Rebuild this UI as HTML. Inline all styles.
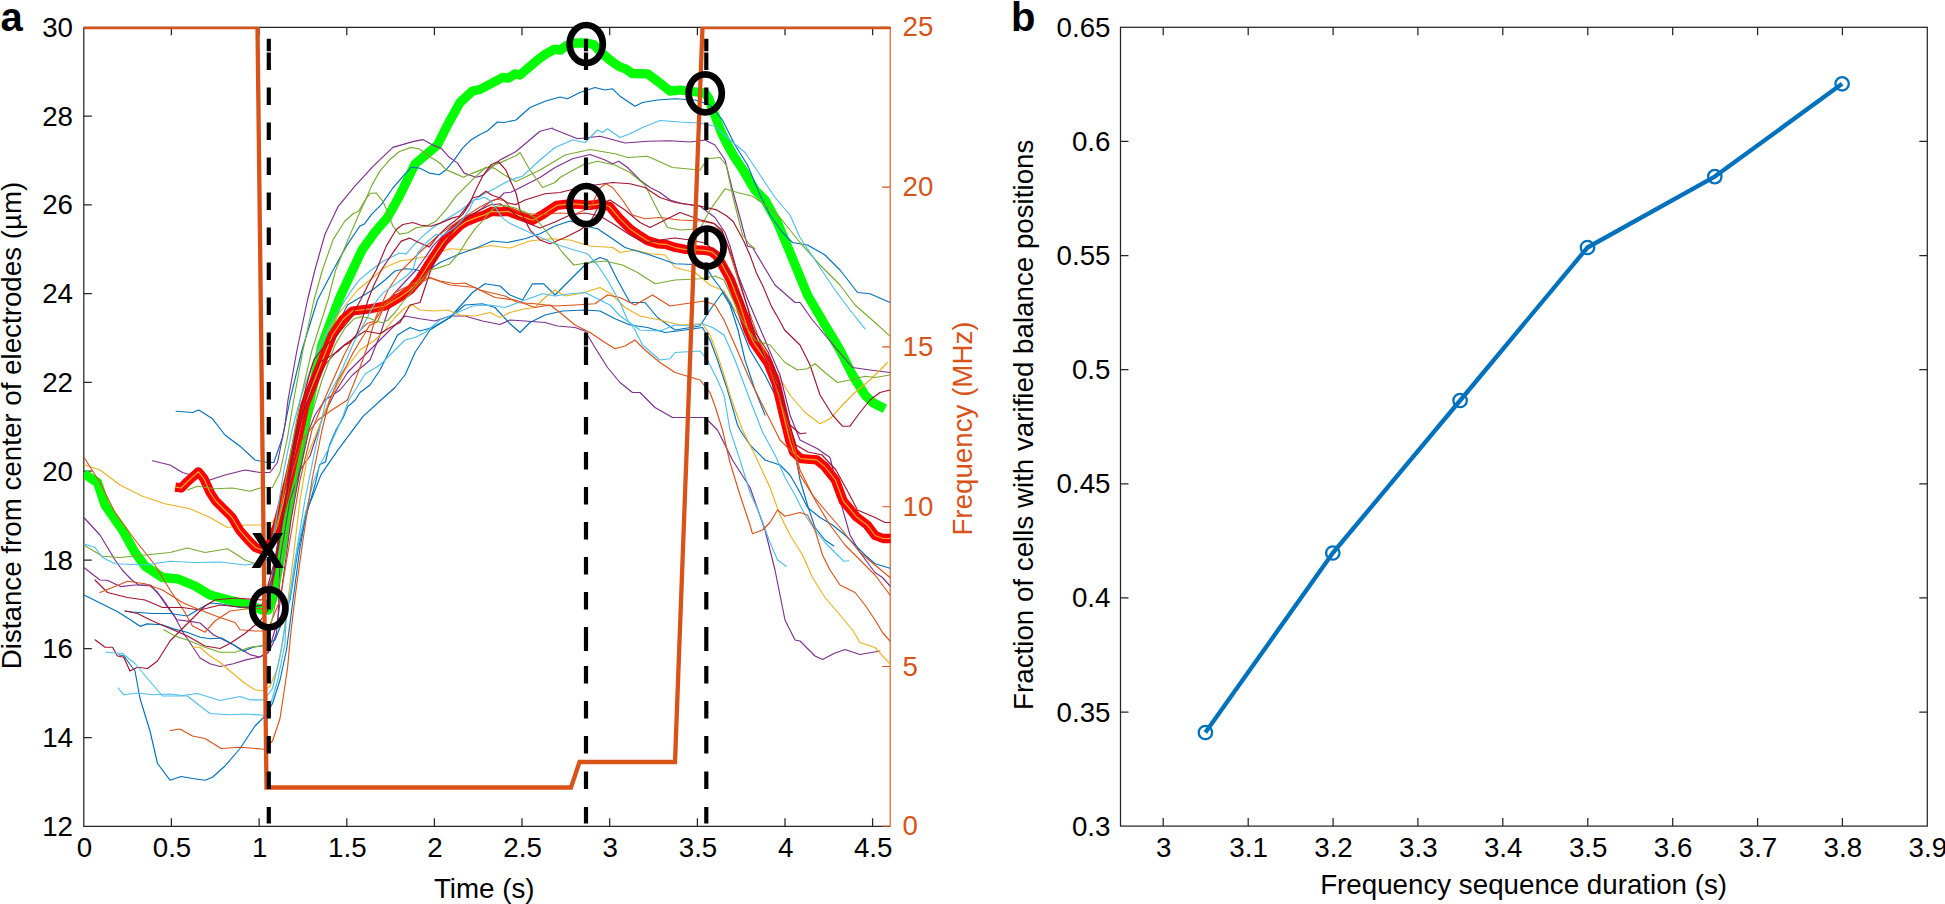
<!DOCTYPE html>
<html lang="en"><head><meta charset="utf-8"><title>Figure</title>
<style>html,body{margin:0;padding:0;background:#fff;}body{width:1945px;height:904px;overflow:hidden;}svg{display:block;}text{font-family:"Liberation Sans", Arial, Helvetica, sans-serif;}</style></head><body>
<svg width="1945" height="904" viewBox="0 0 1945 904">
<rect width="1945" height="904" fill="#fff"/>
<defs><clipPath id="ca"><rect x="83.8" y="26.7" width="806.9" height="799.6"/></clipPath></defs>
<g fill="none" stroke="#262626" stroke-width="1.25">
<path d="M83.8 27.3V826.3H890.2"/>
<path d="M83.8 27.3H890.2"/>
<path d="M171.4 826.3v-8M171.4 27.3v8M259.1 826.3v-8M259.1 27.3v8M346.8 826.3v-8M346.8 27.3v8M434.4 826.3v-8M434.4 27.3v8M522.0 826.3v-8M522.0 27.3v8M609.7 826.3v-8M609.7 27.3v8M697.4 826.3v-8M697.4 27.3v8M785.0 826.3v-8M785.0 27.3v8M872.6 826.3v-8M872.6 27.3v8M83.8 737.5h8M83.8 648.7h8M83.8 560.0h8M83.8 471.2h8M83.8 382.4h8M83.8 293.6h8M83.8 204.9h8M83.8 116.1h8"/>
</g>
<g fill="none" stroke="#D95319" stroke-width="1.1">
<path d="M890.2 27.3V826.3M890.2 826.3h-8M890.2 666.5h-8M890.2 506.7h-8M890.2 346.9h-8M890.2 187.1h-8M890.2 27.3h-8"/>
</g>
<g clip-path="url(#ca)" fill="none" stroke-linejoin="round" stroke-linecap="round">
<polyline stroke="#00FF00" stroke-width="9.3" stroke-linecap="butt" points="83.8,473.8 97.5,482.5 105.0,505.0 122.5,530.0 135.0,552.5 145.0,566.0 162.5,577.5 177.5,578.8 195.0,586.0 210.0,595.0 232.5,601.0 250.0,605.0 262.0,610.0 268.0,610.0 273.0,598.0 280.0,560.0 290.0,500.0 300.0,452.0 310.0,400.0 322.0,345.0 340.0,297.0 362.0,250.0 375.0,232.0 387.5,217.5 400.0,195.0 415.0,164.0 437.5,145.0 447.5,125.0 460.0,102.5 472.5,91.0 480.0,89.5 502.5,77.5 508.8,78.0 515.0,73.8 520.0,75.0 537.5,60.0 546.0,53.8 554.6,49.2 560.6,50.2 565.9,45.9 573.9,43.2 581.0,42.8 588.5,43.5 593.8,44.5 598.5,49.9 605.8,56.5 612.4,61.8 619.0,66.5 626.0,69.1 632.0,73.5 647.5,73.8 657.5,81.2 670.0,91.2 680.0,90.0 705.0,93.0 708.5,98.0 711.6,106.3 716.5,119.5 721.5,132.8 728.2,146.1 734.8,157.7 743.1,170.0 755.0,190.0 765.0,200.0 777.5,222.5 790.0,252.5 807.5,295.0 825.0,325.0 840.0,350.0 852.5,375.0 865.0,395.0 872.5,402.5 885.0,408.8"/>
<g stroke-width="1.15">
<polyline stroke="#0072BD" points="176.2,411.2 192.5,412.5 198.8,410.0 212.5,418.8 225.0,435.0 240.0,446.2 255.0,460.0 267.5,462.5 273.8,462.5 282.5,437.5 290.0,400.0 302.0,350.0 317.5,300.0 333.2,270.0 346.4,246.1 359.7,226.2 364.7,223.7 371.3,214.6 381.3,204.6 392.9,188.0 402.9,176.4 411.1,167.3 419.4,168.1 429.4,173.1 439.3,174.7 446.0,169.8 454.3,159.8 462.6,148.2 470.9,139.9 479.2,134.9 487.5,130.8 497.4,122.0 504.0,122.5 516.0,120.0 530.0,107.5 545.0,101.2 560.0,97.0 567.5,98.8 580.0,92.5 595.0,87.5 605.0,90.0 612.5,88.8 620.0,96.2 635.0,106.2 642.5,102.5 657.5,100.0 675.0,98.8 695.0,100.0 710.0,105.0 722.5,120.0 735.0,145.0 747.5,165.0 760.0,195.0 770.0,215.0 782.5,232.5 792.5,242.5 807.5,245.0 825.0,255.0 840.0,270.0 857.5,292.5 870.0,293.8 890.0,302.5"/>
<polyline stroke="#7E2F8E" points="152.5,460.8 170.0,465.0 182.5,472.5 200.0,477.5 210.0,480.0 225.0,475.0 245.0,470.0 260.0,472.5 270.0,472.5 277.5,462.5 285.0,425.0 288.0,400.0 297.0,350.0 307.5,300.0 314.9,270.0 324.9,234.5 338.2,206.3 354.7,186.4 373.0,166.4 392.9,147.4 412.8,141.6 422.8,139.6 432.7,144.9 441.0,148.2 449.3,157.3 457.6,163.1 464.2,173.1 475.8,177.2 482.5,175.6 490.8,168.1 499.1,160.6 516.0,151.5 540.0,131.2 552.5,128.0 552.5,128.8 565.0,133.8 577.5,138.8 600.0,136.2 625.0,143.0 647.5,141.2 670.0,140.8 690.0,142.0 705.0,140.0 715.0,145.0 725.0,160.0 732.5,190.0 740.0,217.5 747.5,246.0 752.5,247.5 775.0,285.0 795.0,302.5 800.0,302.5 812.5,320.0 837.5,350.0 852.5,367.5 870.0,370.0 890.0,372.5"/>
<polyline stroke="#EDB120" points="83.8,464.5 100.0,470.0 120.0,485.0 142.5,496.2 165.0,503.8 190.0,508.8 210.0,517.5 227.5,527.5 245.0,525.0 262.5,525.0 272.5,522.5 280.0,507.5 287.5,475.0 297.5,425.0 302.5,400.0 312.0,365.0 325.0,335.0 340.0,312.0 357.5,290.0 370.0,280.0 385.0,267.5 400.0,261.0 415.0,258.8 432.5,255.0 450.0,248.8 470.0,250.0 490.0,245.5 510.0,248.0 530.0,241.0 550.0,238.8 570.0,240.0 590.0,246.0 612.5,247.5 620.0,252.5 635.0,250.0 650.0,253.8 665.0,255.0 675.0,267.5 695.0,272.5 710.0,285.0 724.0,291.0 735.0,310.0 750.0,330.0 765.0,350.0 775.0,370.0 790.0,395.0 805.0,412.5 820.0,423.8 830.0,418.8 842.5,405.0 855.0,392.5 870.0,380.0 887.5,362.5"/>
<polyline stroke="#7E2F8E" points="83.8,517.5 100.0,535.0 115.0,560.0 122.2,570.0 131.8,580.0 138.7,585.0 150.4,586.0 157.0,591.6 167.0,606.5 177.0,619.8 190.2,621.4 200.0,623.0 213.4,634.7 233.3,644.7 250.0,654.6 259.8,657.0 268.0,652.0 272.0,640.0 277.5,621.0 283.0,580.0 291.0,520.0 300.0,470.0 309.0,430.0 315.0,415.0 325.0,400.0 340.0,390.0 352.5,375.0 370.0,360.0 380.0,335.0 387.5,312.5 395.0,292.5 416.1,270.0 426.1,256.0 432.7,246.1 439.3,239.4 449.3,229.5 455.9,222.9 465.9,216.2 475.8,212.9 482.5,207.9 490.8,201.3 499.1,198.0 504.0,193.0 510.7,192.2 516.0,189.7 540.0,177.5 555.0,167.5 572.5,158.8 590.0,154.5 605.0,160.0 612.5,163.8 618.8,161.2 627.5,167.5 640.0,180.0 650.0,187.5 660.0,192.5 670.0,200.0 682.5,203.8 700.0,206.2 715.0,217.5 725.0,232.5 730.0,246.0 738.0,275.0 750.0,305.0 765.0,340.0 780.0,375.0 790.0,415.0 800.0,440.0 817.5,448.8 830.0,457.5 832.5,467.5 840.0,500.0 850.0,535.0 860.0,552.5 875.0,572.5 882.5,577.5 890.0,586.0"/>
<polyline stroke="#7E2F8E" points="83.8,567.5 100.0,580.0 107.2,580.3 120.5,586.6 135.0,585.0 150.4,585.0 162.0,598.2 173.6,614.8 183.5,633.0 190.2,643.0 200.1,658.0 210.0,663.7 220.0,666.5 233.3,663.7 246.6,659.6 259.8,657.0 268.1,653.0 273.1,643.0 276.4,633.0 278.0,621.0 280.0,560.0 290.0,500.0 300.0,470.0 310.0,456.0 322.5,417.5 335.0,392.5 347.5,372.5 365.0,355.0 380.0,340.0 395.0,325.0 405.0,316.0 420.0,318.8 435.0,321.0 450.0,316.0 465.0,316.0 482.5,321.0 500.0,324.5 510.0,320.0 525.0,321.0 545.0,322.5 557.5,326.0 575.0,327.5 585.0,331.0 595.0,347.5 607.5,367.5 620.0,382.5 632.5,392.5 640.0,392.5 655.0,407.5 672.5,417.5 705.0,417.5 715.0,427.5 717.5,430.0 732.5,460.0 750.0,487.5 765.0,530.0 775.0,570.0 785.0,620.0 795.0,640.0 800.0,641.0 815.0,656.0 822.5,659.5 835.0,653.0 845.0,649.5 860.0,654.5 880.0,651.0"/>
<polyline stroke="#0072BD" points="84.0,594.9 100.6,603.2 117.2,611.5 130.4,619.8 140.4,626.4 147.0,623.9 162.0,624.7 173.6,628.9 186.9,632.2 200.1,637.2 210.1,638.8 221.7,638.0 233.3,644.7 243.3,651.3 253.2,647.1 263.2,645.5 275.0,640.0 283.0,620.0 290.0,600.0 298.0,550.0 305.0,520.0 315.5,483.0 319.6,464.7 325.4,462.0 329.6,444.8 336.0,430.0 343.7,416.6 347.8,406.6 355.3,400.0 360.0,392.5 370.0,385.0 380.0,370.0 390.0,350.0 397.5,335.0 410.0,327.5 420.0,331.0 432.5,327.5 450.0,317.5 465.0,305.0 482.5,303.8 495.0,307.5 510.0,323.8 520.0,332.5 530.0,322.5 545.0,315.0 562.5,311.0 585.0,310.0 600.0,311.0 615.0,318.8 630.0,325.0 647.5,327.5 665.0,332.5 685.0,330.0 702.5,327.5 710.0,340.0 717.5,360.0 727.5,390.0 737.5,425.0 740.0,430.0 750.0,445.0 765.0,460.0 780.0,465.0 790.0,475.0 800.0,492.5 807.5,507.5 820.0,517.5 832.5,525.0 845.0,535.0 855.0,545.0 865.0,555.0 875.0,563.8 890.0,568.2"/>
<polyline stroke="#0072BD" points="125.0,611.0 132.5,612.0 152.5,613.5 170.0,613.5 187.5,616.0 200.0,608.5 210.0,603.0 220.0,603.8 240.0,607.5 260.0,606.0 268.0,600.0 275.0,560.0 285.0,500.0 295.0,450.0 308.0,400.0 325.0,350.0 347.5,305.0 360.0,297.5 372.5,290.0 385.0,280.0 395.0,271.0 405.0,268.8 415.0,269.5 425.0,272.5 440.0,262.5 460.0,253.8 477.5,247.5 492.5,241.0 507.5,242.5 525.0,238.8 540.0,233.8 555.0,226.0 570.0,221.0 585.0,226.0 597.5,228.8 612.5,238.8 625.0,247.5 650.0,255.0 675.0,263.8 705.0,265.0 712.5,277.5 720.0,287.5 730.0,302.5 740.0,325.0 750.0,350.0 765.0,375.0 775.0,395.0 790.0,427.5 800.0,480.0 807.5,505.0 815.0,527.5 825.0,540.0 833.8,546.0"/>
<polyline stroke="#0072BD" points="118.8,654.8 123.8,656.0 135.0,671.0 140.0,698.5 150.0,731.0 157.5,763.5 170.0,780.2 181.2,776.5 192.5,778.5 205.0,780.2 212.5,777.2 225.0,766.0 240.0,748.5 255.0,726.0 265.0,716.0 272.5,703.5 280.0,680.0 286.5,650.0 293.0,600.0 299.7,550.0 306.7,510.0 312.0,498.0 321.0,474.6 338.0,449.8 362.8,416.6 381.0,400.0 395.0,387.5 405.0,375.0 415.0,352.5 430.0,330.0 450.0,317.5 472.5,292.5 485.0,283.8 500.0,286.0 510.0,295.0 522.5,300.0 532.5,283.8 543.8,283.8 555.0,295.0 570.0,280.0 585.0,265.0 600.0,257.5 607.5,260.0 617.5,280.0 630.0,302.5 645.0,302.5 657.5,317.5 675.0,330.0 700.0,326.0 710.0,310.0 722.5,292.5 730.0,305.0 738.0,330.0 745.0,360.0 755.0,390.0 765.0,415.0"/>
<polyline stroke="#EDB120" points="192.5,647.2 200.0,647.2 210.0,656.0 220.0,662.2 230.0,671.0 245.0,683.5 255.0,689.8 263.8,691.0 270.0,686.0 277.5,668.5 282.5,643.5 293.0,560.0 300.0,500.0 307.5,456.0 327.5,405.0 345.0,370.0 360.0,350.0 375.0,340.0 385.0,330.0 395.0,317.5 405.0,307.5 412.5,305.0 420.0,310.0 435.0,311.0 447.5,310.0 460.0,315.0 475.0,316.0 490.0,312.5 500.0,317.5 510.0,312.5 525.0,308.8 535.0,307.5 545.0,297.5 555.0,290.0 565.0,296.0 580.0,293.8 600.0,287.5 612.5,295.0 625.0,307.5 640.0,316.0 660.0,320.0 680.0,325.0 702.5,323.8 710.0,335.0 717.5,355.0 724.0,375.0 730.0,395.0 737.0,415.0 742.5,430.0 755.0,455.0 770.0,487.5 780.0,515.0 790.0,535.0 802.5,555.0 812.5,577.5 825.0,597.5 840.0,615.0 852.5,630.0 860.0,642.5 875.0,647.5 890.0,663.8"/>
</g>
<polyline stroke="#FF0000" stroke-width="9.3" stroke-linecap="butt" points="175.3,487.1 181.2,488.0 186.5,482.5 198.5,471.8 203.8,478.5 210.4,493.0 215.7,501.0 223.7,509.0 231.7,517.0 239.6,530.2 247.6,539.5 255.5,547.5 262.2,550.0 269.0,546.0 277.5,525.0 290.0,475.0 305.0,405.0 317.5,372.5 332.5,335.0 342.5,320.0 352.5,311.0 370.0,308.8 385.0,306.0 400.0,297.0 410.0,290.0 418.8,280.0 427.8,265.7 435.8,253.7 443.7,241.8 451.7,233.8 459.7,225.9 465.7,221.9 475.6,217.9 484.6,214.9 491.6,211.4 499.5,211.9 508.5,211.4 514.5,213.9 519.8,215.9 532.8,220.3 543.7,213.9 556.7,205.4 569.6,203.9 579.6,204.4 589.6,205.4 599.5,203.9 609.5,206.5 620.0,218.9 629.9,228.8 639.9,235.8 647.8,240.8 657.8,243.8 665.8,244.3 674.7,247.3 684.7,249.3 694.7,249.8 704.6,250.3 711.6,251.8 716.6,255.7 721.6,263.7 726.5,272.7 730.5,280.0 740.0,305.0 748.0,330.0 753.0,341.6 768.0,363.0 776.0,383.0 783.0,413.0 789.5,439.5 793.5,452.0 800.8,458.6 816.7,459.9 824.7,466.5 835.3,479.8 843.2,501.0 856.5,516.9 867.1,524.9 875.1,535.5 883.0,538.5 891.0,538.5"/>
<polyline stroke="#F0A818" stroke-width="1.2" points="175.3,487.1 181.2,488.0 186.5,482.5 198.5,471.8 203.8,478.5 210.4,493.0 215.7,501.0 223.7,509.0 231.7,517.0 239.6,530.2 247.6,539.5 255.5,547.5 262.2,550.0 269.0,546.0 277.5,525.0 290.0,475.0 305.0,405.0 317.5,372.5 332.5,335.0 342.5,320.0 352.5,311.0 370.0,308.8 385.0,306.0 400.0,297.0 410.0,290.0 418.8,280.0 427.8,265.7 435.8,253.7 443.7,241.8 451.7,233.8 459.7,225.9 465.7,221.9 475.6,217.9 484.6,214.9 491.6,211.4 499.5,211.9 508.5,211.4 514.5,213.9 519.8,215.9 532.8,220.3 543.7,213.9 556.7,205.4 569.6,203.9 579.6,204.4 589.6,205.4 599.5,203.9 609.5,206.5 620.0,218.9 629.9,228.8 639.9,235.8 647.8,240.8 657.8,243.8 665.8,244.3 674.7,247.3 684.7,249.3 694.7,249.8 704.6,250.3 711.6,251.8 716.6,255.7 721.6,263.7 726.5,272.7 730.5,280.0 740.0,305.0 748.0,330.0 753.0,341.6 768.0,363.0 776.0,383.0 783.0,413.0 789.5,439.5 793.5,452.0 800.8,458.6 816.7,459.9 824.7,466.5 835.3,479.8 843.2,501.0 856.5,516.9 867.1,524.9 875.1,535.5 883.0,538.5 891.0,538.5"/>
<g stroke-width="1.15">
<polyline stroke="#77AC30" points="187.5,490.0 197.5,486.2 215.0,488.8 232.5,488.0 250.0,491.2 260.0,488.0 272.5,487.5 280.0,472.5 287.5,437.5 293.7,400.0 303.0,350.0 314.0,300.0 322.4,270.0 333.2,239.4 344.8,221.2 353.1,213.7 358.9,210.9 366.4,198.0 371.3,186.4 379.6,171.4 389.6,159.8 399.5,151.5 411.1,147.4 419.4,149.0 429.4,156.5 436.0,160.6 441.0,164.0 446.0,169.8 455.9,173.9 463.4,177.2 472.5,173.1 485.8,168.1 499.1,163.1 516.0,155.7 520.0,152.5 530.0,170.0 542.5,187.5 555.0,182.5 560.0,177.5 582.5,165.0 597.5,161.2 615.0,165.0 630.0,172.5 645.0,185.0 657.5,210.0 667.5,227.5 680.0,230.0 700.0,228.8 710.0,210.0 725.0,188.8 737.5,192.5 752.5,196.2 765.0,205.0 780.0,217.5 790.0,230.0 800.0,242.5 820.0,265.0 840.0,285.0 855.0,305.0 875.0,322.5 890.0,336.2"/>
<polyline stroke="#D95319" points="83.8,457.0 100.0,482.5 115.0,512.5 135.0,540.0 155.0,565.0 170.0,590.0 185.0,612.5 192.5,626.0 197.5,628.5 205.0,632.2 215.0,621.0 230.0,611.0 250.0,608.5 265.0,608.5 272.0,590.0 280.0,540.0 290.0,480.0 302.0,440.0 318.0,420.0 332.0,410.0 347.3,400.0 356.2,377.4 362.8,359.7 367.3,346.5 371.7,331.0 376.1,316.6 381.6,304.4 388.0,290.0 400.0,272.0 420.0,252.0 440.0,234.0 460.0,220.0 480.0,207.0 490.8,201.3 497.4,199.3 504.0,200.5 510.0,207.5 520.0,212.5 540.0,215.0 560.0,213.0 575.0,214.0 590.0,208.0 600.0,188.0 606.0,183.8 612.5,187.5 622.5,200.0 632.5,215.0 645.0,218.8 660.0,217.5 680.0,220.0 700.0,221.0 715.0,223.8 722.5,232.5 727.5,246.0 740.0,285.0 752.0,320.0 765.0,355.0 775.0,385.0 790.0,430.0 800.0,470.0 815.0,500.0 830.0,525.0 845.0,545.0 860.0,560.0 875.0,575.0 890.0,595.0"/>
<polyline stroke="#77AC30" points="83.8,545.0 102.5,556.2 120.0,557.5 145.0,555.0 170.0,552.5 187.5,548.0 205.0,552.5 227.5,548.8 245.0,560.0 255.0,563.8 270.0,550.0 280.0,512.0 290.0,456.0 300.3,400.0 312.0,350.0 328.0,300.0 335.7,270.0 348.1,239.4 358.1,216.2 366.4,198.0 370.5,193.3 376.3,193.0 382.9,201.3 387.9,212.9 392.9,226.2 399.5,234.1 407.8,232.8 416.1,227.8 426.1,226.2 436.0,221.2 446.0,209.6 455.9,196.3 465.9,186.4 475.8,176.4 485.8,167.3 494.1,168.1 504.0,174.7 516.0,181.4 540.0,170.0 565.0,155.0 590.0,149.5 615.0,153.8 627.5,157.5 647.5,156.2 672.5,167.5 700.0,170.0 707.5,158.8 720.0,157.5 726.2,165.0 732.5,195.0 740.0,225.0 742.5,235.0 750.0,245.0 755.0,248.8"/>
<polyline stroke="#4DBEEE" points="83.8,543.8 95.0,547.5 102.5,557.5 115.0,563.8 145.0,565.0 170.0,561.2 195.0,562.5 220.0,562.0 245.0,565.0 255.0,563.8 262.0,566.0 270.0,555.0 276.0,520.0 284.0,470.0 292.0,430.0 300.0,400.0 312.0,365.0 325.0,335.0 335.0,315.0 341.5,306.0 349.8,292.9 359.7,279.6 369.7,271.3 383.0,261.3 399.5,253.0 406.2,253.9 412.8,246.1 422.8,236.1 432.7,227.8 446.0,219.5 459.3,211.2 472.5,201.3 482.5,194.7 495.8,188.0 505.7,182.2 516.0,178.1 522.5,176.2 540.0,160.0 555.0,147.5 572.5,140.0 585.0,142.5 597.5,130.0 602.5,132.5 607.5,128.8 620.0,137.5 630.0,133.8 642.5,127.5 660.0,120.5 680.0,122.0 700.0,123.0 715.0,126.2 730.0,140.0 745.0,152.5 760.0,175.0 775.0,197.5 790.0,215.0 800.0,237.5 805.0,245.0 820.0,267.5 835.0,290.0 850.0,310.0 865.0,328.8"/>
<polyline stroke="#A2142F" points="95.0,580.0 107.5,592.5 127.5,597.5 145.0,600.0 162.5,607.5 182.5,607.5 200.0,610.0 220.0,605.0 245.0,607.5 262.5,605.0 275.0,560.0 285.0,500.0 295.0,440.0 303.0,400.0 308.6,377.4 314.0,359.7 322.0,349.0 334.0,338.7 349.5,320.0 360.6,300.0 368.0,285.0 376.3,270.0 386.3,246.1 396.2,229.5 402.9,224.5 412.8,222.5 421.1,225.3 431.1,226.2 441.0,222.9 452.6,217.9 459.3,216.2 465.9,207.9 472.5,198.0 479.2,196.3 485.8,191.3 492.4,195.5 500.7,198.0 507.4,202.9 516.0,204.6 525.0,200.0 545.0,193.8 560.0,192.5 575.0,188.8 595.0,185.0 612.5,182.5 630.0,183.8 645.0,187.5 660.0,197.5 675.0,202.5 700.0,206.0 716.6,209.9 726.5,215.7 733.2,221.5 743.1,239.7 749.8,254.7 756.4,272.9 763.0,286.2 771.3,306.1 778.0,317.7 784.6,330.0 800.0,345.0 810.0,365.0 820.0,395.0 832.5,415.0 842.5,426.2 850.0,426.2 860.0,412.5 870.0,400.0 880.0,392.5 890.0,390.0"/>
<polyline stroke="#D95319" points="100.0,592.5 112.5,587.5 127.5,581.2 145.0,583.8 162.5,590.0 182.5,602.5 200.0,610.0 220.0,617.5 235.0,622.5 240.0,629.8 255.0,631.0 267.5,631.0 280.0,600.0 290.0,540.0 300.0,480.0 312.0,430.0 324.1,400.0 334.1,377.4 344.0,355.3 352.9,338.7 360.6,329.9 367.3,323.2 373.9,321.6 380.5,312.2 385.0,303.3 395.0,292.5 410.0,285.0 420.0,280.0 430.0,277.5 440.0,281.0 455.0,283.8 465.0,283.0 480.0,290.0 490.0,292.5 505.0,296.0 517.5,302.5 535.0,303.8 555.0,306.0 575.0,305.0 595.0,303.8 607.5,295.0 620.0,297.5 635.0,305.0 652.5,295.0 670.0,306.0 685.0,303.8 705.0,301.0 715.0,305.0 724.0,320.0 735.0,345.0 750.0,380.0 765.0,410.0 780.0,440.0 795.0,455.0 800.0,475.0 812.5,495.0 825.0,510.0 840.0,527.5 850.0,540.0 860.0,552.5 875.0,565.0 890.0,577.5"/>
<polyline stroke="#A2142F" points="125.0,611.0 137.5,613.5 152.5,621.0 170.0,628.5 187.5,636.0 205.0,646.0 220.0,648.5 230.0,643.5 245.0,633.5 260.0,621.0 267.5,611.0 276.0,560.0 286.0,500.0 297.0,440.0 306.0,400.0 313.0,377.0 320.0,362.0 331.9,355.3 338.5,350.9 344.0,345.4 349.5,343.0 356.2,335.4 362.0,320.0 368.0,300.0 374.0,285.0 381.3,270.0 392.9,252.7 401.2,241.1 409.5,238.1 419.4,242.8 429.4,246.9 437.7,236.1 446.0,227.8 454.3,221.2 462.6,214.6 469.2,204.6 475.8,189.7 482.5,176.4 490.8,164.8 498.2,161.5 505.7,169.8 510.7,181.4 516.0,193.0 520.0,210.0 530.0,230.0 540.0,240.0 550.0,243.8 565.0,237.5 580.0,230.0 590.0,222.5 600.0,203.8 610.0,200.0 625.0,210.0 640.0,222.5 650.0,227.5 665.0,220.0 680.0,212.5 700.0,219.8 713.3,223.1 721.6,229.8 728.2,246.4 733.2,259.6 738.2,276.2 743.1,292.8 748.1,309.4 753.0,330.0 762.0,352.0 772.0,372.0 780.0,395.0 790.0,425.0 800.0,433.8 806.0,433.0"/>
<polyline stroke="#A2142F" points="95.0,639.8 105.0,647.2 112.5,647.2 117.5,656.0 123.8,657.2 130.0,671.0 137.5,667.2 147.5,668.5 157.5,661.0 170.0,641.0 182.5,628.5 195.0,616.0 205.0,606.0 215.0,600.0 235.0,598.0 262.0,600.0 274.0,575.0 284.0,510.0 294.0,450.0 304.0,410.0 314.0,385.0 325.0,365.0 336.0,352.0 347.5,342.5 365.0,331.0 380.0,333.8 390.0,327.5 400.0,322.5 410.0,305.0 420.0,302.5 425.0,287.5 430.0,272.5 437.5,255.0 445.0,243.0 455.0,228.0 465.0,219.0 478.0,211.0 490.0,205.0 500.0,203.8 512.0,212.0 525.0,222.0 540.0,228.0 555.0,222.0 570.0,215.0 585.0,213.0 600.0,216.0 615.0,225.0 630.0,235.0 645.0,243.0 660.0,240.0 675.0,238.0 690.0,240.0 705.0,243.0 716.0,252.0 728.0,270.0 742.0,300.0 755.0,332.0 768.0,352.0 778.0,378.0 788.0,420.0 796.0,445.0 808.0,452.0 822.0,455.0 836.0,470.0 848.0,492.0 857.5,510.0 875.0,517.5 885.0,522.5 890.0,522.5"/>
<polyline stroke="#4DBEEE" points="106.2,652.2 122.5,653.5 135.0,663.5 147.5,678.5 162.5,696.0 175.0,696.0 187.5,696.0 200.0,706.0 210.0,713.5 230.0,714.8 245.0,714.0 263.8,715.2 270.0,706.0 277.5,681.0 285.0,643.5 286.0,620.0 292.0,585.0 297.2,550.0 305.0,515.0 313.0,483.0 320.0,465.0 328.0,449.8 336.0,432.0 342.9,416.6 348.7,400.0 356.2,388.5 365.0,374.0 380.0,365.0 395.0,350.0 405.0,340.0 415.0,337.5 425.0,332.5 440.0,320.0 457.5,312.5 472.5,306.0 490.0,305.0 505.0,307.5 525.0,300.0 542.5,293.8 555.0,296.0 570.0,293.8 585.0,292.5 595.0,297.5 610.0,305.0 620.0,316.0 640.0,330.0 660.0,331.0 675.0,325.0 690.0,326.0 702.5,323.8 712.5,327.5 724.0,335.0 735.0,360.0 750.0,400.0 762.5,432.0 775.0,455.0 785.0,477.5 795.0,495.0 805.0,515.0 815.0,530.0 825.0,542.5 835.0,552.5 843.8,561.2 848.8,560.8"/>
<polyline stroke="#4DBEEE" points="118.2,688.0 123.8,694.8 137.5,693.0 152.5,694.8 170.0,694.0 182.5,695.5 197.5,693.5 220.0,700.5 240.0,696.5 250.0,699.8 263.8,699.8 272.5,688.5 280.0,656.0 286.0,620.0 295.0,560.0 305.0,500.0 315.0,450.0 326.0,400.0 338.5,377.4 347.3,357.5 354.0,342.0 360.6,329.9 367.3,317.7 371.7,308.8 377.2,300.0 383.0,292.9 392.9,285.9 406.2,276.3 412.8,270.0 417.8,252.7 426.1,242.8 436.0,234.5 442.7,235.3 454.3,227.8 462.6,219.5 469.2,209.6 474.2,199.6 479.2,199.3 484.1,197.1 490.8,201.3 495.8,207.9 502.4,217.9 509.0,222.9 516.0,226.2 535.0,235.0 555.0,243.8 570.0,248.8 587.5,253.8 597.5,265.0 607.5,280.0 620.0,302.5 627.5,320.0 635.0,330.0 642.5,345.0 660.0,360.0 670.0,358.8 675.0,352.5 700.0,351.0 707.5,360.0 717.5,380.0 724.0,395.0 730.0,430.0 740.0,460.0 750.0,492.5 760.0,515.0 770.0,542.5 777.5,560.0 786.2,566.2"/>
<polyline stroke="#D95319" points="170.0,730.5 180.0,729.0 192.5,736.0 205.0,738.5 221.2,748.5 240.0,747.2 250.0,748.0 264.5,749.2 272.5,741.0 280.0,718.5 287.5,668.5 291.0,631.0 296.0,590.0 303.0,540.0 312.0,480.0 322.0,430.0 329.6,400.0 338.5,379.6 346.2,366.4 352.9,353.1 359.5,342.0 365.0,333.2 369.5,325.4 377.2,322.0 385.0,305.0 400.0,292.5 415.0,285.0 430.0,278.0 450.0,285.0 475.0,287.5 495.0,297.5 515.0,300.0 535.0,307.5 550.0,305.0 560.0,312.5 575.0,325.0 590.0,332.5 605.0,342.5 615.0,348.8 625.0,346.0 635.0,340.0 645.0,350.0 660.0,362.5 675.0,372.5 700.0,380.0 710.0,392.5 715.0,406.0 722.5,430.0 730.0,462.5 740.0,495.0 750.0,525.0 752.5,533.8 762.5,530.0 770.0,522.5 777.5,510.0 785.0,516.2 800.0,512.5 807.5,515.0 815.0,530.0 822.5,555.0 830.0,570.0 840.0,585.0 855.0,592.5 865.0,605.0 875.0,620.0 882.5,632.5 890.0,641.2"/>
<polyline stroke="#77AC30" points="163.8,629.8 175.0,636.0 190.0,641.0 205.0,647.2 220.0,652.2 235.0,652.2 250.0,647.2 262.5,646.0 270.0,630.0 278.0,590.0 288.0,530.0 298.0,470.0 310.0,420.0 322.0,380.0 335.0,345.0 345.0,328.0 354.0,318.8 361.7,316.6 369.5,318.3 376.0,321.0 382.7,322.7 388.0,320.0 395.0,312.5 402.5,302.5 415.0,287.5 430.0,270.0 439.3,267.6 449.3,264.3 459.3,252.7 467.6,239.4 475.8,227.8 482.5,221.2 490.0,212.0 495.8,206.3 504.0,205.4 515.0,208.0 525.0,212.0 535.0,217.5 550.0,236.0 562.5,252.5 573.8,265.0 590.0,262.5 605.0,261.0 622.5,265.0 637.5,272.5 655.0,283.8 675.0,280.0 700.0,278.8 715.0,276.0 724.0,280.0 733.0,300.0 742.0,320.0 755.0,340.0 770.0,345.0 785.0,362.5 797.5,370.0 807.5,368.8 815.0,363.8 825.0,372.5 837.5,382.5 850.0,380.0 865.0,376.2 875.0,377.5 890.0,375.0"/>
</g>
<polyline stroke="#D95319" stroke-width="4.3" stroke-linejoin="miter" stroke-linecap="butt" points="83.0,27.0 257.5,27.0 266.5,787.5 571.0,787.5 579.5,762.0 675.0,762.0 702.5,27.0 892.0,27.0"/>
</g>
<g stroke="#000" stroke-width="4.2" fill="none">
<path d="M268.8 38.8V51.3M268.8 52.5V70.0M268.8 87.5V105.0M268.8 122.5V140.0M268.8 157.5V175.0M268.8 192.5V210.0M268.8 227.5V245.0M268.8 262.5V280.0M268.8 297.5V315.0M268.8 332.5V345.6M268.8 346.6V365.0M268.8 382.0V399.5M268.8 417.0V434.5M268.8 452.0V469.5M268.8 487.0V504.5M268.8 522.0V539.5M268.8 557.0V574.5M268.8 592.0V609.5M268.8 627.0V651.0M268.8 666.0V683.5M268.8 701.0V718.5M268.8 736.0V753.5M268.8 771.5V789.0M268.8 807.0V823.5"/>
<path d="M586.0 38.8V51.3M586.0 52.5V70.0M586.0 87.5V105.0M586.0 122.5V140.0M586.0 157.5V175.0M586.0 192.5V210.0M586.0 227.5V245.0M586.0 262.5V280.0M586.0 297.5V315.0M586.0 332.5V345.6M586.0 346.6V365.0M586.0 382.0V399.5M586.0 417.0V434.5M586.0 452.0V469.5M586.0 487.0V504.5M586.0 522.0V539.5M586.0 557.0V574.5M586.0 592.0V609.5M586.0 627.0V651.0M586.0 666.0V683.5M586.0 701.0V718.5M586.0 736.0V753.5M586.0 771.5V789.0M586.0 807.0V823.5"/>
<path d="M706.3 38.8V51.3M706.3 52.5V70.0M706.3 87.5V105.0M706.3 122.5V140.0M706.3 157.5V175.0M706.3 192.5V210.0M706.3 227.5V245.0M706.3 262.5V280.0M706.3 297.5V315.0M706.3 332.5V345.6M706.3 346.6V365.0M706.3 382.0V399.5M706.3 417.0V434.5M706.3 452.0V469.5M706.3 487.0V504.5M706.3 522.0V539.5M706.3 557.0V574.5M706.3 592.0V609.5M706.3 627.0V651.0M706.3 666.0V683.5M706.3 701.0V718.5M706.3 736.0V753.5M706.3 771.5V789.0M706.3 807.0V823.5"/>
</g>
<g fill="none" stroke="#000" stroke-width="6.7">
<ellipse cx="586.2" cy="44.0" rx="16.6" ry="19.0"/>
<ellipse cx="705.2" cy="93.3" rx="16.6" ry="19.0"/>
<ellipse cx="586.2" cy="205.0" rx="16.6" ry="19.0"/>
<ellipse cx="707.0" cy="247.5" rx="16.6" ry="19.0"/>
<ellipse cx="268.8" cy="608.3" rx="16.6" ry="19.0"/>
</g>
<text transform="translate(267.7 568.2) scale(0.885 1)" font-size="67" font-weight="bold" text-anchor="middle" fill="#000">x</text>
<g font-size="26.8" fill="#000">
<text transform="translate(84.4 857.3) scale(1.035 1)" text-anchor="middle">0</text>
<text transform="translate(172.0 857.3) scale(1.035 1)" text-anchor="middle">0.5</text>
<text transform="translate(259.7 857.3) scale(1.035 1)" text-anchor="middle">1</text>
<text transform="translate(347.4 857.3) scale(1.035 1)" text-anchor="middle">1.5</text>
<text transform="translate(435.0 857.3) scale(1.035 1)" text-anchor="middle">2</text>
<text transform="translate(522.6 857.3) scale(1.035 1)" text-anchor="middle">2.5</text>
<text transform="translate(610.3 857.3) scale(1.035 1)" text-anchor="middle">3</text>
<text transform="translate(698.0 857.3) scale(1.035 1)" text-anchor="middle">3.5</text>
<text transform="translate(785.6 857.3) scale(1.035 1)" text-anchor="middle">4</text>
<text transform="translate(873.2 857.3) scale(1.035 1)" text-anchor="middle">4.5</text>
<text transform="translate(73.0 835.8) scale(1.035 1)" text-anchor="end">12</text>
<text transform="translate(73.0 747.0) scale(1.035 1)" text-anchor="end">14</text>
<text transform="translate(73.0 658.2) scale(1.035 1)" text-anchor="end">16</text>
<text transform="translate(73.0 569.5) scale(1.035 1)" text-anchor="end">18</text>
<text transform="translate(73.0 480.7) scale(1.035 1)" text-anchor="end">20</text>
<text transform="translate(73.0 391.9) scale(1.035 1)" text-anchor="end">22</text>
<text transform="translate(73.0 303.1) scale(1.035 1)" text-anchor="end">24</text>
<text transform="translate(73.0 214.4) scale(1.035 1)" text-anchor="end">26</text>
<text transform="translate(73.0 125.6) scale(1.035 1)" text-anchor="end">28</text>
<text transform="translate(73.0 36.8) scale(1.035 1)" text-anchor="end">30</text>
<text transform="translate(484.2 897.5) scale(1.035 1)" text-anchor="middle">Time (s)</text>
<text transform="translate(21.2 425.5) rotate(-90) scale(1.035 1)" text-anchor="middle">Distance from center of electrodes (µm)</text>
</g>
<g font-size="26.8" fill="#D95319">
<text transform="translate(902.5 835.3) scale(1.035 1)" text-anchor="start">0</text>
<text transform="translate(902.5 675.5) scale(1.035 1)" text-anchor="start">5</text>
<text transform="translate(902.5 515.7) scale(1.035 1)" text-anchor="start">10</text>
<text transform="translate(902.5 355.9) scale(1.035 1)" text-anchor="start">15</text>
<text transform="translate(902.5 196.1) scale(1.035 1)" text-anchor="start">20</text>
<text transform="translate(902.5 36.3) scale(1.035 1)" text-anchor="start">25</text>
<text transform="translate(971.5 428.5) rotate(-90) scale(1.035 1)" text-anchor="middle">Frequency (MHz)</text>
</g>
<text x="0.5" y="30.5" font-size="40" font-weight="bold" fill="#000">a</text>
<g fill="none" stroke="#262626" stroke-width="1.25">
<rect x="1120.5" y="27.3" width="806.8" height="798.8"/>
<path d="M1163.2 826.1v-8M1163.2 27.3v8M1248.2 826.1v-8M1248.2 27.3v8M1333.1 826.1v-8M1333.1 27.3v8M1417.9 826.1v-8M1417.9 27.3v8M1502.8 826.1v-8M1502.8 27.3v8M1587.8 826.1v-8M1587.8 27.3v8M1672.7 826.1v-8M1672.7 27.3v8M1757.6 826.1v-8M1757.6 27.3v8M1842.4 826.1v-8M1842.4 27.3v8M1120.5 712.0h8M1927.3 712.0h-8M1120.5 597.9h8M1927.3 597.9h-8M1120.5 483.8h8M1927.3 483.8h-8M1120.5 369.6h8M1927.3 369.6h-8M1120.5 255.5h8M1927.3 255.5h-8M1120.5 141.4h8M1927.3 141.4h-8"/>
</g>
<polyline fill="none" stroke="#0072BD" stroke-width="4.3" stroke-linejoin="round" points="1205.4,732.5 1332.8,553.0 1460.1,400.5 1587.5,247.5 1714.8,176.6 1842.1,83.8"/>
<g fill="none" stroke="#0072BD" stroke-width="2.3">
<circle cx="1205.4" cy="732.5" r="6.7"/>
<circle cx="1332.8" cy="553.0" r="6.7"/>
<circle cx="1460.1" cy="400.5" r="6.7"/>
<circle cx="1587.5" cy="247.5" r="6.7"/>
<circle cx="1714.8" cy="176.6" r="6.7"/>
<circle cx="1842.1" cy="83.8" r="6.7"/>
</g>
<g font-size="26.8" fill="#000">
<text transform="translate(1163.7 857.3) scale(1.035 1)" text-anchor="middle">3</text>
<text transform="translate(1248.6 857.3) scale(1.035 1)" text-anchor="middle">3.1</text>
<text transform="translate(1333.5 857.3) scale(1.035 1)" text-anchor="middle">3.2</text>
<text transform="translate(1418.3 857.3) scale(1.035 1)" text-anchor="middle">3.3</text>
<text transform="translate(1503.2 857.3) scale(1.035 1)" text-anchor="middle">3.4</text>
<text transform="translate(1588.2 857.3) scale(1.035 1)" text-anchor="middle">3.5</text>
<text transform="translate(1673.1 857.3) scale(1.035 1)" text-anchor="middle">3.6</text>
<text transform="translate(1758.0 857.3) scale(1.035 1)" text-anchor="middle">3.7</text>
<text transform="translate(1842.8 857.3) scale(1.035 1)" text-anchor="middle">3.8</text>
<text transform="translate(1927.8 857.3) scale(1.035 1)" text-anchor="middle">3.9</text>
<text transform="translate(1110.5 835.6) scale(1.035 1)" text-anchor="end">0.3</text>
<text transform="translate(1110.5 721.5) scale(1.035 1)" text-anchor="end">0.35</text>
<text transform="translate(1110.5 607.4) scale(1.035 1)" text-anchor="end">0.4</text>
<text transform="translate(1110.5 493.3) scale(1.035 1)" text-anchor="end">0.45</text>
<text transform="translate(1110.5 379.1) scale(1.035 1)" text-anchor="end">0.5</text>
<text transform="translate(1110.5 265.0) scale(1.035 1)" text-anchor="end">0.55</text>
<text transform="translate(1110.5 150.9) scale(1.035 1)" text-anchor="end">0.6</text>
<text transform="translate(1110.5 36.8) scale(1.035 1)" text-anchor="end">0.65</text>
<text transform="translate(1523.6 894.4) scale(1.035 1)" text-anchor="middle">Frequency sequence duration (s)</text>
<text transform="translate(1032.7 424.8) rotate(-90) scale(1.035 1)" text-anchor="middle">Fraction of cells with varified balance positions</text>
</g>
<text x="1011" y="30.5" font-size="40" font-weight="bold" fill="#000">b</text>
</svg></body></html>
